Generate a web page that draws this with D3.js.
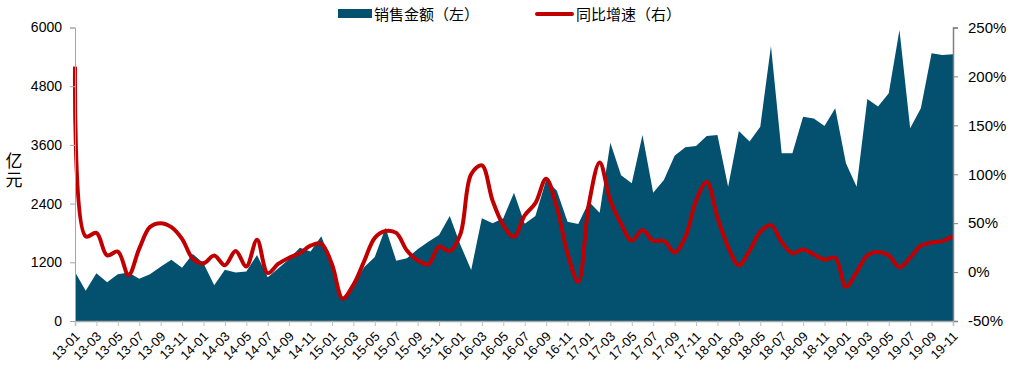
<!DOCTYPE html>
<html>
<head>
<meta charset="utf-8">
<script src="https://cdn.jsdelivr.net/npm/d3@7"></script>
<style>
  html, body { margin: 0; padding: 0; background: #fff; }
  svg { display: block; }
  text { font-family: "Liberation Sans", Arial, sans-serif; fill: #000; }
  .cjk { font-family: "Noto Sans CJK SC", sans-serif; }
</style>
</head>
<body>
<svg id="chart" width="1019" height="377"></svg>
<script>
const months = [
  "13-01","13-02","13-03","13-04","13-05","13-06","13-07","13-08","13-09","13-10","13-11","13-12",
  "14-01","14-02","14-03","14-04","14-05","14-06","14-07","14-08","14-09","14-10","14-11","14-12",
  "15-01","15-02","15-03","15-04","15-05","15-06","15-07","15-08","15-09","15-10","15-11","15-12",
  "16-01","16-02","16-03","16-04","16-05","16-06","16-07","16-08","16-09","16-10","16-11","16-12",
  "17-01","17-02","17-03","17-04","17-05","17-06","17-07","17-08","17-09","17-10","17-11","17-12",
  "18-01","18-02","18-03","18-04","18-05","18-06","18-07","18-08","18-09","18-10","18-11","18-12",
  "19-01","19-02","19-03","19-04","19-05","19-06","19-07","19-08","19-09","19-10","19-11"
];
const sales = [
  1000, 620, 975, 790, 955, 990, 865, 955, 1110, 1250, 1090, 1370,
  1180, 730, 1050, 990, 1010, 1350, 893, 1080, 1270, 1500, 1420, 1730,
  1170, 450, 720, 1100, 1310, 1905, 1233, 1282, 1466, 1622, 1759, 2147,
  1554, 1043, 2100, 1998, 2100, 2624, 1990, 2147, 2883, 2665, 2031, 1984,
  2440, 2215, 3646, 2980, 2816, 3804, 2624, 2883, 3380, 3552, 3579, 3783,
  3804, 2747, 3885, 3667, 3973, 5624, 3429, 3429, 4178, 4138, 3988, 4350,
  3225, 2747, 4540, 4383, 4657, 5951, 3940, 4350, 5474, 5440, 5454
];
const growth = [
  210, 36.5, 40, 17, 21, -3, 24, 46, 50, 46, 34, 13.7,
  9, 17, 7, 21.5, 5.8, 33, -1, 8.6, 14.7, 19.4, 27, 29,
  8, -27, -13, 11, 35, 42, 40, 22, 12, 8, 26, 21.5,
  39, 100, 109, 73, 48, 36, 58, 70.5, 95.5, 66, 19, -10,
  70, 112, 73, 49.5, 32, 43, 32, 32, 20, 36, 73, 92,
  56, 25.6, 7, 22, 41, 48, 30.7, 19.4, 23, 18, 12.7, 14.7,
  -15, 0, 17, 20.5, 17, 5, 14.7, 27, 30, 31.7, 36.5
];
const leftTicks = [0, 1200, 2400, 3600, 4800, 6000];
const rightTicks = [-50, 0, 50, 100, 150, 200, 250];
const seriesNames = ["销售金额（左）", "同比增速（右）"];
const unitLabel = "亿元";

const svg = d3.select("#chart");
const x0 = 75, x1 = 953, yTop = 27.5, yBot = 321;
const x = d3.scaleLinear().domain([0, months.length - 1]).range([x0, x1]);
const yL = d3.scaleLinear().domain([0, 6000]).range([yBot, yTop]);
const yR = d3.scaleLinear().domain([-50, 250]).range([yBot, yTop]);

const areaColor = "#03506F";
const lineColor = "#C00000";

// area
svg.append("path")
  .datum(sales)
  .attr("fill", areaColor)
  .attr("d", d3.area().x((d, i) => x(i)).y0(yBot).y1(d => yL(d)));

// line
svg.append("path")
  .datum(growth)
  .attr("fill", "none")
  .attr("stroke", lineColor)
  .attr("stroke-width", 4)
  .attr("stroke-linejoin", "round")
  .attr("d", d3.line().x((d, i) => x(i)).y(d => yR(d)).curve(d3.curveCatmullRom.alpha(0.5)));

// left axis
const gL = svg.append("g").attr("transform", `translate(${x0},0)`)
  .call(d3.axisLeft(yL).tickValues(leftTicks).tickSize(5).tickPadding(8).tickFormat(d3.format("d")));
gL.select(".domain").attr("stroke", "#a6a6a6");
gL.selectAll(".tick line").attr("stroke", "#a6a6a6");
gL.selectAll("text").attr("font-size", 14).attr("fill", "#000").attr("font-family", "Liberation Sans, Arial, sans-serif");

// right axis
const gR = svg.append("g").attr("transform", `translate(${x1},0)`)
  .call(d3.axisRight(yR).tickValues(rightTicks).tickSize(5).tickPadding(10).tickFormat(d => String(d).replace("\u2212", "-") + "%"));
gR.select(".domain").attr("stroke", "#808080").attr("stroke-width", 1.5);
gR.selectAll(".tick line").attr("stroke", "#808080");
gR.selectAll("text").attr("font-size", 15).attr("fill", "#000").attr("font-family", "Liberation Sans, Arial, sans-serif");

// bottom axis
const tickIdx = months.map((m, i) => i).filter(i => i % 2 === 0);
const gB = svg.append("g").attr("transform", `translate(0,${yBot})`)
  .call(d3.axisBottom(x).tickValues(tickIdx).tickSize(5).tickFormat(i => months[i]));
gB.select(".domain").attr("stroke", "#a6a6a6").attr("stroke-width", 1.5);
gB.selectAll(".tick line").attr("stroke", "#bfbfbf");
gB.selectAll("text")
  .attr("font-size", 13)
  .attr("fill", "#000")
  .attr("font-family", "Liberation Sans, Arial, sans-serif")
  .attr("text-anchor", "end")
  .attr("dy", "0.35em")
  .attr("transform", "translate(2,13) rotate(-45)")
  .attr("y", 0).attr("x", 0);

// unit label (vertical)
svg.append("text").attr("class", "cjk")
  .attr("x", 14).attr("y", 152)
  .attr("font-size", 17)
  .style("writing-mode", "vertical-rl")
  .style("text-orientation", "upright")
  .attr("letter-spacing", 2)
  .text(unitLabel);

// legend
const lg = svg.append("g");
lg.append("rect").attr("x", 338).attr("y", 9).attr("width", 34).attr("height", 9).attr("fill", areaColor);
lg.append("text").attr("class", "cjk").attr("x", 374).attr("y", 20).attr("font-size", 15).text(seriesNames[0]);
lg.append("line").attr("x1", 537).attr("x2", 572).attr("y1", 14).attr("y2", 14)
  .attr("stroke", lineColor).attr("stroke-width", 4).attr("stroke-linecap", "round");
lg.append("text").attr("class", "cjk").attr("x", 576).attr("y", 20).attr("font-size", 15).text(seriesNames[1]);
</script>
</body>
</html>
